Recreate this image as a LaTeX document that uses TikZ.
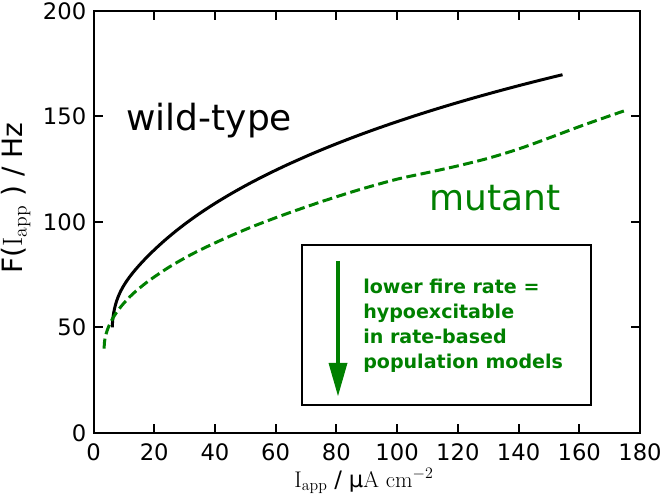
\documentclass[tikz,border=0pt]{standalone}
\usepackage{fontspec}
\newfontfamily\dejavu{DejaVu Sans}
\definecolor{mplgreen}{RGB}{0,128,0}
\begin{document}
\begin{tikzpicture}[x=0.75pt,y=-0.75pt,
  axisframe/.style={line width=1.5pt},
  tickline/.style={line width=1.5pt},
  ticklabel/.style={font=\dejavu\fontsize{17}{20}\selectfont, inner sep=0pt},
  bigword/.style={font=\dejavu\fontsize{27}{32}\selectfont, inner sep=0pt, anchor=base west},
  wtcurve/.style={line width=2.25pt, black, line join=round},
  mutcurve/.style={line width=2.25pt, mplgreen, dash pattern=on 7.5pt off 3.4pt},
  boxframe/.style={line width=1.1pt},
  notetext/.style={font=\dejavu\bfseries\fontsize{14.3}{18.6}\selectfont, text=mplgreen, align=left, inner sep=0pt, anchor=north west}]
\useasboundingbox (0,0) rectangle (665,499);
% axes frame
\draw[axisframe] (93.5,11) rectangle (640,433);
% x ticks
\foreach \v in {0,20,...,180} {
  \pgfmathsetmacro{\xx}{93.5+3.03611*\v}
  \draw[tickline] (\xx,433) -- (\xx,424);
  \draw[tickline] (\xx,11) -- (\xx,20);
  \node[ticklabel, anchor=base] (xt\v) at (\xx,460) {\v};
}
% y ticks
\foreach \v in {0,50,...,200} {
  \pgfmathsetmacro{\yy}{433-2.11*\v}
  \draw[tickline] (93.5,\yy) -- (102.5,\yy);
  \draw[tickline] (640,\yy) -- (631,\yy);
  \node[ticklabel, anchor=east] (yt\v) at (86.5,\yy) {\v};
}
% axis labels
\node[anchor=base, inner sep=0pt, font=\fontsize{17}{20}\selectfont] (xlab) at (364,487) {I$_{\mathrm{app}}$ {\dejavu /} {\dejavu μ}A cm$^{-2}$};
\node[rotate=90, anchor=base, inner sep=0pt, font=\dejavu\fontsize{21}{24}\selectfont] (ylab) at (22.5,198) {F({\rmfamily I}$_{\mathrm{app}}$ ) / Hz};
% data curves in data coordinates
\begin{scope}[shift={(93.5,433)}, x=2.27708pt, y=1.5825pt]
  \draw[wtcurve] plot[domain=0.01:12.178, samples=160, variable=\s, smooth]
    ({6.2+\s*\s}, {50+8.529*(\s)^1.2-0.3466*\s*\s+3*\s*exp(-\s*\s/4)});
  \draw[mutcurve] plot[smooth] coordinates {(3.5,40) (3.6,42.8) (3.9,45.5) (4.5,48.6) (5.5,52.1) (7,55.9) (9.5,60.7) (13,66.0) (18,71.9) (25,78.7) (33,85.2) (42,91.4) (52,97.6) (63,103.6) (75,109.6) (87.5,115.3) (100,120.3) (110,123.4) (120,126.6) (130,130.2) (140,134.6) (150,139.8) (160,145.2) (170,150.3) (174.7,152.6)};
\end{scope}
% curve labels
\node[bigword] (wt) at (126,131) {wild-type};
\node[bigword, text=mplgreen] (mut) at (429,211) {mutant};
% annotation box
\draw[boxframe] (302,245) rectangle (591,405);
\coordinate (atop) at (338,261);
\coordinate (abase) at (338,364);
\coordinate (atip) at (338,396);
\draw[line width=3pt, mplgreen] (atop) -- (abase);
\fill[mplgreen] (328.5,363) -- (347.5,363) -- (atip) -- cycle;
\node[notetext] (note) at (363,279) {lower fire rate =\\hypoexcitable\\in rate-based\\population models};
\end{tikzpicture}
\end{document}
